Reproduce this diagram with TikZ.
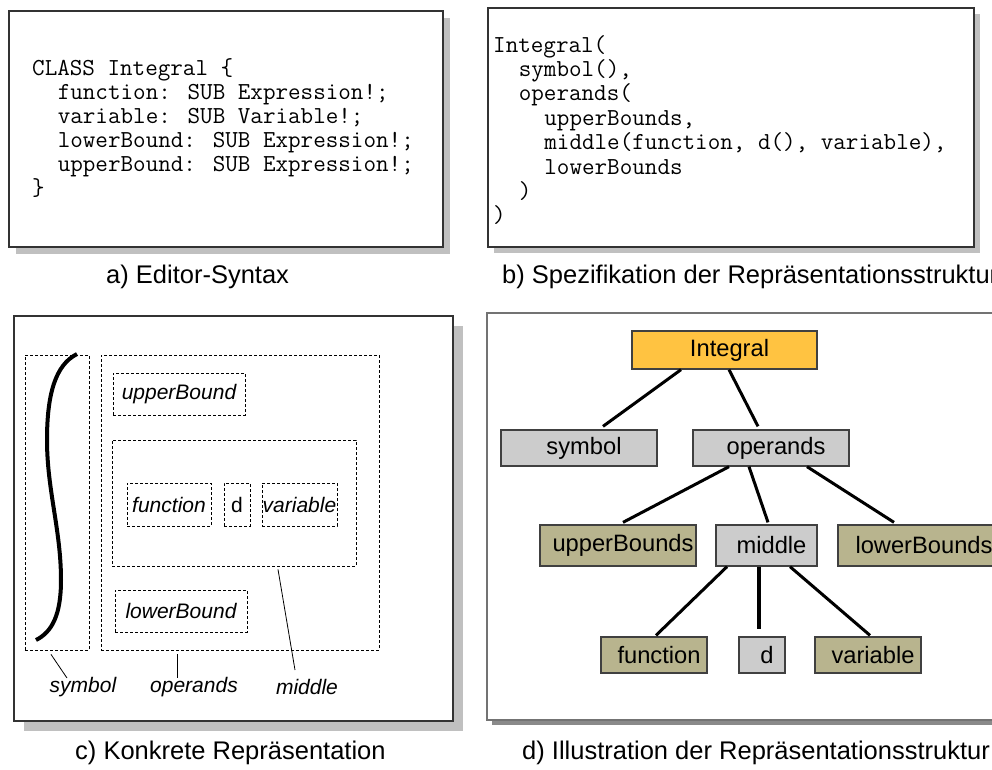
\documentclass[tikz,border=0pt]{standalone}
\usepackage{fontspec}
\setmainfont{Liberation Sans}
\usetikzlibrary{calc}

\definecolor{khaki}{HTML}{B8B48E}
\definecolor{lightgrey}{HTML}{CCCCCC}
\definecolor{amber}{HTML}{FFC341}
\definecolor{shadowlight}{HTML}{C0C0C0}
\definecolor{shadowdark}{HTML}{8A8A8A}

\begin{document}
\begin{tikzpicture}[x=1pt,y=-1pt,
  panel/.style={draw=black!80, line width=1.2pt, fill=white},
  dropshadow/.style={fill=shadowlight, draw=none},
  codeline/.style={font=\ttfamily\fontsize{24.4}{26}\selectfont, anchor=base west, inner sep=0pt},
  capt/.style={font=\fontsize{25.5}{28}\selectfont, anchor=base west, inner sep=0pt},
  partbox/.style={draw, dash pattern=on 3pt off 2pt, line width=0.8pt, inner sep=0pt,
                  font=\itshape\fontsize{21}{24}\selectfont},
  partlabel/.style={font=\itshape\fontsize{21}{24}\selectfont, inner sep=0pt},
  leader/.style={line width=0.8pt},
  tnode/.style={draw=black!75, line width=1.3pt, inner sep=0pt, minimum height=36pt,
                font=\fontsize{23.7}{26}\selectfont},
  treeedge/.style={line width=3pt},
]
\useasboundingbox (0,0) rectangle (992,769);
\clip (0,0) rectangle (992,769);
\fill[white] (0,0) rectangle (992,769);

% ---------- a) Editor-Syntax ----------
\fill[dropshadow] (16,18) rectangle (450,254);
\draw[panel] (9,11) rectangle (443,247);
\node[codeline] (a1) at (32,75)   {CLASS Integral \{};
\node[codeline] (a2) at (57.6,99)  {function: SUB Expression!;};
\node[codeline] (a3) at (57.6,123) {variable: SUB Variable!;};
\node[codeline] (a4) at (57.6,147) {lowerBound: SUB Expression!;};
\node[codeline] (a5) at (57.6,171) {upperBound: SUB Expression!;};
\node[codeline] (a6) at (32,195)  {\}};
\node[capt] (capa) at (106,283) {a) Editor-Syntax};

% ---------- b) Spezifikation ----------
\fill[dropshadow] (494,14) rectangle (980,253);
\draw[panel] (488,8) rectangle (974,247);
\node[codeline] (b1) at (493,52)    {Integral(};
\node[codeline] (b2) at (518.6,76.4)  {symbol(),};
\node[codeline] (b3) at (518.6,100.8) {operands(};
\node[codeline] (b4) at (544.2,125.2) {upperBounds,};
\node[codeline] (b5) at (544.2,149.6) {middle(function, d(), variable),};
\node[codeline] (b6) at (544.2,174)   {lowerBounds};
\node[codeline] (b7) at (518.6,198.4) {)};
\node[codeline] (b8) at (493,222.8)   {)};
\node[capt] (capb) at (502,283) {b) Spezifikation der Repräsentationsstruktur};

% ---------- c) Konkrete Repraesentation ----------
\fill[dropshadow] (24,326) rectangle (463,731);
\draw[panel] (14,316) rectangle (453,721);
\node[partbox, minimum width=64pt,  minimum height=295pt] (csym) at (57,502.5) {};
\node[partbox, minimum width=278pt, minimum height=295pt] (cops) at (240,502.5) {};
\node[partbox, minimum width=132pt, minimum height=42pt]  (cub)  at (179,394) {upperBound};
\node[partbox, minimum width=244pt, minimum height=126pt] (cmid) at (234,503) {};
\node[partbox, minimum width=84pt,  minimum height=43pt]  (cfn)  at (169,504.5) {function};
\node[partbox, minimum width=26pt,  minimum height=43pt, font=\fontsize{21}{24}\selectfont] (cd) at (237,504.5) {d};
\node[partbox, minimum width=75pt,  minimum height=43pt]  (cvar) at (299.5,504.5) {variable};
\node[partbox, minimum width=132pt, minimum height=42pt]  (clb)  at (181,611) {lowerBound};
% integral sign
\draw[line width=4pt] (77,354) .. controls (55,365) and (47,395) .. (47,440)
      .. controls (47,490) and (61,530) .. (61,580)
      .. controls (61,615) and (52,632) .. (36,640);
% labels with leader lines
\node[partlabel] (lsym) at (83,687)  {symbol};
\node[partlabel] (lops) at (194,687) {operands};
\node[partlabel] (lmid) at (307,687) {middle};
\draw[leader] ([xshift=-6pt,yshift=-4pt]csym.south) -- ([xshift=-16pt,yshift=9pt]lsym.center);
\draw[leader] ([xshift=-63pt,yshift=-4pt]cops.south) -- ([xshift=-17pt,yshift=9pt]lops.center);
\draw[leader] ([xshift=44pt,yshift=-3pt]cmid.south) -- ([xshift=-12pt,yshift=17pt]lmid.center);
\node[capt] (capc) at (75,759) {c) Konkrete Repräsentation};

% ---------- d) Illustration ----------
\fill[shadowdark] (492,318) rectangle (1005,725);
\draw[panel, draw=black!55, line width=1.8pt] (487,313) rectangle (1000,720);
\node[tnode, fill=amber, minimum width=185pt, minimum height=38pt] (tint) at (724.5,350) {\hspace*{10pt}Integral};
\node[tnode, fill=lightgrey, minimum width=156pt] (tsym) at (579,448) {\hspace*{10pt}symbol};
\node[tnode, fill=lightgrey, minimum width=156pt] (tops) at (771,448) {\hspace*{10pt}operands};
\node[tnode, fill=khaki, minimum width=156pt, minimum height=41pt] (tub)  at (618,545.5) {\hspace*{10pt}upperBounds};
\node[tnode, fill=lightgrey, minimum width=101pt, minimum height=41pt] (tmid) at (766.5,545.5) {\hspace*{10pt}middle};
\node[tnode, fill=khaki, minimum width=162pt, minimum height=41pt] (tlb)  at (919,545.5) {\hspace*{10pt}lowerBounds};
\node[tnode, fill=khaki, minimum width=106pt] (tfn)  at (654,655) {\hspace*{10pt}function};
\node[tnode, fill=lightgrey, minimum width=46pt] (td) at (762,655) {\hspace*{10pt}d};
\node[tnode, fill=khaki, minimum width=106pt] (tvar) at (868,655) {\hspace*{10pt}variable};

\draw[treeedge] ([xshift=-43.5pt]tint.south) -- ([xshift=24pt,yshift=3pt]tsym.north);
\draw[treeedge] ([xshift=4.5pt]tint.south)   -- ([xshift=-13pt,yshift=3pt]tops.north);
\draw[treeedge] ([xshift=-42pt]tops.south)   -- ([xshift=5pt,yshift=2pt]tub.north);
\draw[treeedge] ([xshift=-22pt]tops.south)   -- ([xshift=1.5pt,yshift=2pt]tmid.north);
\draw[treeedge] ([xshift=36pt]tops.south)    -- ([xshift=-25pt,yshift=2pt]tlb.north);
\draw[treeedge] ([xshift=-39.5pt]tmid.south) -- ([xshift=2pt,yshift=1pt]tfn.north);
\draw[line width=4.5pt] ([xshift=-7.5pt]tmid.south) -- ([xshift=-3pt,yshift=7pt]td.north);
\draw[treeedge] ([xshift=23.5pt]tmid.south)  -- ([xshift=2pt,yshift=1pt]tvar.north);
\node[capt] (capd) at (522,759) {d) Illustration der Repräsentationsstruktur};
\end{tikzpicture}
\end{document}
